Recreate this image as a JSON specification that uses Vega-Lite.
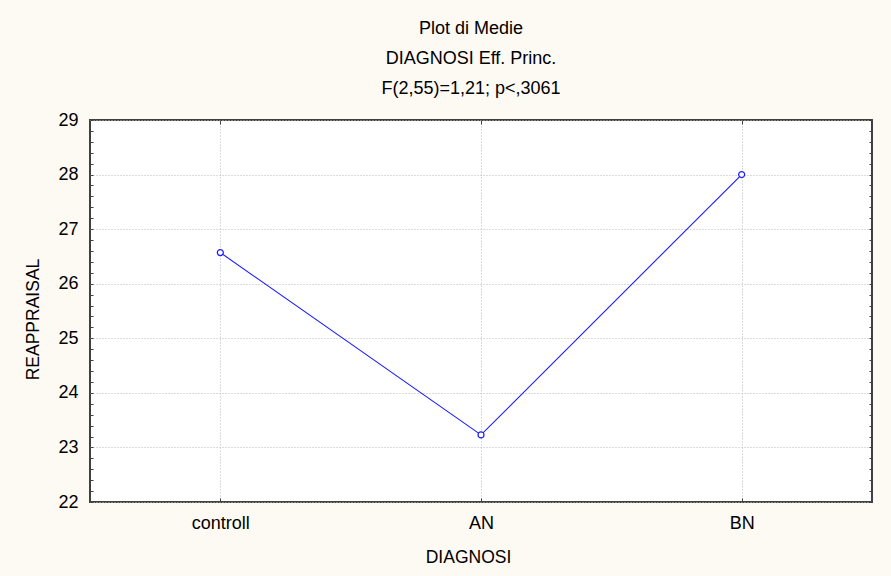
{
  "$schema": "https://vega.github.io/schema/vega-lite/v6.json",
  "autosize": "none",
  "width": 782,
  "height": 382,
  "padding": {"left": 90, "top": 120, "right": 19, "bottom": 74},
  "background": "#fdf9f3",
  "config": {
    "font": "Liberation Sans",
    "view": {"fill": "white", "stroke": "#404040", "strokeWidth": 2},
    "axis": {"labelFont": "Liberation Sans", "titleFont": "Liberation Sans", "labelFontSize": 18, "titleFontSize": 17.5, "titleFontWeight": "normal", "labelColor": "#000000", "titleColor": "#000000"}
  },
  "title": {
    "text": ["Plot di Medie", "DIAGNOSI Eff. Princ.", "F(2,55)=1,21; p<,3061"],
    "fontSize": 18,
    "fontWeight": "normal",
    "font": "Liberation Sans",
    "color": "#000000",
    "lineHeight": 30,
    "anchor": "middle",
    "frame": "group",
    "dx": -10,
    "offset": 13
  },
  "data": {
    "values": [
      {"DIAGNOSI": "controll", "REAPPRAISAL": 26.57},
      {"DIAGNOSI": "AN", "REAPPRAISAL": 23.23},
      {"DIAGNOSI": "BN", "REAPPRAISAL": 28.0}
    ]
  },
  "layer": [
    {
      "mark": {"type": "line", "stroke": "#1a1aff", "strokeWidth": 1.1},
      "encoding": {
        "x": {
          "field": "DIAGNOSI", "type": "nominal", "sort": null,
          "scale": {"type": "point", "padding": 0.5},
          "axis": {"orient": "bottom", "title": "DIAGNOSI", "titleX": 378, "labelAngle": 0, "domain": false, "tickSize": -4, "tickColor": "#404040", "labelPadding": 16, "titlePadding": 16, "grid": true, "gridColor": "#b8b8b8", "gridDash": [1, 2]}
        },
        "y": {
          "field": "REAPPRAISAL", "type": "quantitative",
          "scale": {"domain": [22, 29], "nice": false, "zero": false},
          "axis": {
            "orient": "left", "title": "REAPPRAISAL", "titleY": 199, "domain": false,
            "values": [22, 22.2, 22.4, 22.6, 22.8, 23, 23.2, 23.4, 23.6, 23.8, 24, 24.2, 24.4, 24.6, 24.8, 25, 25.2, 25.4, 25.6, 25.8, 26, 26.2, 26.4, 26.6, 26.8, 27, 27.2, 27.4, 27.6, 27.8, 28, 28.2, 28.4, 28.6, 28.8, 29],
            "labelExpr": "datum.value % 1 == 0 ? format(datum.value, 'd') : ''",
            "tickSize": -3, "tickColor": "#404040", "labelPadding": 15, "titlePadding": 15,
            "grid": true, "gridColor": "#b8b8b8", "gridDash": [1, 2],
            "gridOpacity": {"condition": {"test": "datum.value % 1 == 0", "value": 1}, "value": 0}
          }
        }
      }
    },
    {
      "mark": {"type": "point", "filled": false, "fill": "white", "stroke": "#1a1aff", "size": 36, "strokeWidth": 1.2, "shape": "circle", "opacity": 1},
      "encoding": {
        "x": {
          "field": "DIAGNOSI", "type": "nominal", "sort": null,
          "scale": {"type": "point", "padding": 0.5},
          "axis": {"orient": "top", "title": null, "labels": false, "domain": false, "grid": false, "tickSize": -4, "tickColor": "#404040"}
        },
        "y": {
          "field": "REAPPRAISAL", "type": "quantitative",
          "scale": {"domain": [22, 29], "nice": false, "zero": false},
          "axis": {
            "orient": "right", "title": null, "labels": false, "domain": false, "grid": false,
            "values": [22, 22.2, 22.4, 22.6, 22.8, 23, 23.2, 23.4, 23.6, 23.8, 24, 24.2, 24.4, 24.6, 24.8, 25, 25.2, 25.4, 25.6, 25.8, 26, 26.2, 26.4, 26.6, 26.8, 27, 27.2, 27.4, 27.6, 27.8, 28, 28.2, 28.4, 28.6, 28.8, 29],
            "tickSize": -3, "tickColor": "#404040"
          }
        }
      }
    }
  ],
  "resolve": {"axis": {"x": "independent", "y": "independent"}}
}
